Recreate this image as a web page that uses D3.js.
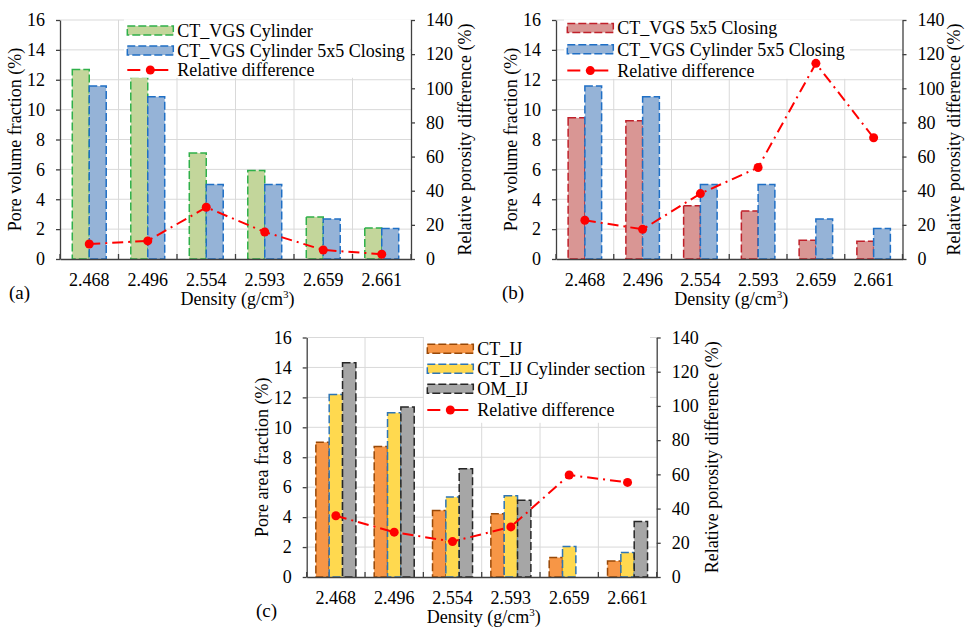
<!DOCTYPE html>
<html>
<head>
<meta charset="utf-8">
<script src="https://cdn.jsdelivr.net/npm/d3@7/dist/d3.min.js"></script>
<style>
  html, body { margin: 0; padding: 0; background: #fff; }
  svg { display: block; }
</style>
</head>
<body>
<svg id="chart" width="965" height="628"></svg>
<script>
// ---------------- DATA ----------------
const categories = ["2.468", "2.496", "2.554", "2.593", "2.659", "2.661"];
const leftTicks = [0, 2, 4, 6, 8, 10, 12, 14, 16];
const rightTicks = [0, 20, 40, 60, 80, 100, 120, 140];

// panel (a)
const ctVgsCylinder        = [12.69, 12.16, 7.10, 5.93, 2.82, 2.08];
const ctVgsCylinderClosing = [11.58, 10.86, 4.99, 4.99, 2.68, 2.04];
const relDiffA             = [8.8, 10.6, 30.3, 15.8, 5.3, 2.8];

// panel (b)
const ctVgsClosing         = [9.45, 9.25, 3.57, 3.22, 1.25, 1.19];
const relDiffB             = [22.7, 17.4, 38.3, 53.6, 114.6, 71.0];

// panel (c)
const ctIJ                 = [9.00, 8.72, 4.45, 4.22, 1.30, 1.07];
const ctIJCylinder         = [12.20, 10.97, 5.34, 5.43, 2.03, 1.63];
const omIJ                 = [14.32, 11.35, 7.24, 5.12, null, 3.71];
const relDiffC             = [35.8, 26.2, 20.7, 29.3, 59.6, 55.3];

// ---------------- DRAW ----------------
const FONT = '"Liberation Serif"';
const svg = d3.select("#chart");
svg.append("rect").attr("width", 965).attr("height", 628).attr("fill", "#fff");

function txt(sel, size) {
  return sel.style("font-family", FONT).style("font-size", size + "px").attr("fill", "#000");
}

function drawPanel(p) {
  const g = svg.append("g");
  const x = d3.scaleBand().domain(categories).range([p.x0, p.x1])
    .paddingInner(p.pad).paddingOuter(p.pad / 2);
  const xs = d3.scaleBand().domain(p.series.map(s => s.name)).range([0, x.bandwidth()]);
  const yL = d3.scaleLinear().domain([0, 16]).range([p.y1, p.y0]);
  const yR = d3.scaleLinear().domain([0, 140]).range([p.y1, p.y0]);

  // horizontal gridlines
  g.append("g").selectAll("line").data(leftTicks.filter(t => t > 0)).join("line")
    .attr("x1", p.x0).attr("x2", p.x1)
    .attr("y1", d => yL(d)).attr("y2", d => yL(d))
    .attr("stroke", "#d9d9d9").attr("stroke-width", 1);
  // vertical gridlines at category boundaries
  const bounds = d3.range(1, categories.length).map(i => p.x0 + i * x.step());
  g.append("g").selectAll("line").data(bounds).join("line")
    .attr("x1", d => d).attr("x2", d => d)
    .attr("y1", p.y0).attr("y2", p.y1)
    .attr("stroke", "#d9d9d9").attr("stroke-width", 1);

  // bars
  p.series.forEach(s => {
    const data = s.values.map((v, i) => ({ c: categories[i], v })).filter(d => d.v != null);
    g.append("g").selectAll("rect").data(data).join("rect")
      .attr("x", d => x(d.c) + xs(s.name))
      .attr("width", xs.bandwidth())
      .attr("y", d => yL(d.v))
      .attr("height", d => yL(0) - yL(d.v))
      .attr("fill", s.fill)
      .attr("stroke", s.stroke).attr("stroke-width", 1.5)
      .attr("stroke-dasharray", "8,3");
  });

  // axes
  const axL = g.append("g").attr("transform", `translate(${p.x0},0)`)
    .call(d3.axisLeft(yL).tickValues(leftTicks).tickSize(4).tickSizeOuter(0).tickPadding(11));
  const axR = g.append("g").attr("transform", `translate(${p.x1},0)`)
    .call(d3.axisRight(yR).tickValues(rightTicks).tickSize(4).tickSizeOuter(0).tickPadding(11));
  const axB = g.append("g").attr("transform", `translate(0,${p.y1})`)
    .call(d3.axisBottom(x).tickSize(0).tickSizeOuter(0).tickPadding(14));
  [axL, axR, axB].forEach(a => {
    a.attr("color", "#404040");
    a.select(".domain").attr("stroke-width", 1.3);
    a.selectAll(".tick line").attr("stroke-width", 1.3);
    txt(a.selectAll("text"), 18);
  });
  // boundary tick marks on category axis (inward)
  g.append("g").selectAll("line").data([p.x0].concat(bounds, [p.x1])).join("line")
    .attr("x1", d => d).attr("x2", d => d)
    .attr("y1", p.y1).attr("y2", p.y1 - 5)
    .attr("stroke", "#404040").attr("stroke-width", 1.3);

  // axis titles
  txt(g.append("text").attr("transform", `translate(${p.x0 - 45},${(p.y0 + p.y1) / 2}) rotate(-90)`)
    .attr("dy", "0.35em").attr("text-anchor", "middle"), 18).text(p.leftTitle);
  txt(g.append("text").attr("transform", `translate(${p.x1 + p.rtOff},${(p.y0 + p.y1) / 2}) rotate(-90)`)
    .attr("dy", "0.35em").attr("text-anchor", "middle"), 18).text("Relative porosity difference (%)");
  const xt = txt(g.append("text").attr("x", (p.x0 + p.x1) / 2 + 2).attr("y", p.y1 + 46)
    .attr("text-anchor", "middle"), 18);
  xt.append("tspan").text("Density (g/cm");
  xt.append("tspan").style("font-size", "11px").attr("dy", -7).text("3");
  xt.append("tspan").attr("dy", 7).text(")");
  // panel label
  txt(g.append("text").attr("x", p.labelX).attr("y", p.labelY), 19).text(p.label);

  // legend
  const L = p.legend;
  g.append("rect").attr("x", L.bx).attr("y", p.y0 - 0.7).attr("width", L.bw).attr("height", L.bh)
    .attr("fill", "#fff");
  p.series.forEach((s, i) => {
    const cy = L.y + i * L.dy;
    g.append("rect").attr("x", L.x).attr("y", cy - 4.5).attr("width", 46).attr("height", 9)
      .attr("fill", s.fill).attr("stroke", s.stroke).attr("stroke-width", 1.5)
      .attr("stroke-dasharray", "8,3");
    txt(g.append("text").attr("x", L.x + 50).attr("y", cy).attr("dy", "0.35em"), 18).text(s.name);
  });
  const ly = L.y + p.series.length * L.dy + L.extra;
  g.append("line").attr("x1", L.x).attr("x2", L.x + 41).attr("y1", ly).attr("y2", ly)
    .attr("stroke", "#ff0000").attr("stroke-width", 2).attr("stroke-dasharray", "13,6,22");
  g.append("circle").attr("cx", L.x + 23).attr("cy", ly).attr("r", 4.5).attr("fill", "#ff0000");
  txt(g.append("text").attr("x", L.x + 50).attr("y", ly).attr("dy", "0.35em"), 18).text("Relative difference");

  // relative difference line
  const line = d3.line().x((d, i) => x(categories[i]) + x.bandwidth() / 2).y(d => yR(d));
  g.append("path").datum(p.line).attr("d", line).attr("fill", "none")
    .attr("stroke", "#ff0000").attr("stroke-width", 2).attr("stroke-dasharray", "11,5,2,5");
  g.append("g").selectAll("circle").data(p.line).join("circle")
    .attr("cx", (d, i) => x(categories[i]) + x.bandwidth() / 2)
    .attr("cy", d => yR(d)).attr("r", 4.5).attr("fill", "#ff0000");
}

const green  = { fill: "#c3d69b", stroke: "#2fb04a" };
const blue   = { fill: "#95b3d7", stroke: "#1f6fc5" };
const red    = { fill: "#d99694", stroke: "#c0202a" };
const orange = { fill: "#f79646", stroke: "#984807" };
const yellow = { fill: "#ffd94f", stroke: "#2e75b6" };
const gray   = { fill: "#a6a6a6", stroke: "#262626" };

drawPanel({
  x0: 60, x1: 411, y0: 20, y1: 259, pad: 0.42, rtOff: 54,
  series: [
    Object.assign({ name: "CT_VGS Cylinder", values: ctVgsCylinder }, green),
    Object.assign({ name: "CT_VGS Cylinder 5x5 Closing", values: ctVgsCylinderClosing }, blue)
  ],
  line: relDiffA, leftTitle: "Pore volume fraction (%)",
  label: "(a)", labelX: 9, labelY: 299,
  legend: { x: 127.3, y: 30.5, dy: 20, extra: -0.5, bx: 124, bw: 286, bh: 58.5 }
});

drawPanel({
  x0: 556, x1: 902.5, y0: 20, y1: 259, pad: 0.42, rtOff: 51,
  series: [
    Object.assign({ name: "CT_VGS 5x5 Closing", values: ctVgsClosing }, red),
    Object.assign({ name: "CT_VGS Cylinder 5x5 Closing", values: ctVgsCylinderClosing }, blue)
  ],
  line: relDiffB, leftTitle: "Pore volume fraction (%)",
  label: "(b)", labelX: 502, labelY: 299,
  legend: { x: 567.3, y: 28, dy: 21.3, extra: 0, bx: 564, bw: 286, bh: 59.5 }
});

drawPanel({
  x0: 306.7, x1: 656.7, y0: 337.5, y1: 577, pad: 0.314, rtOff: 55,
  series: [
    Object.assign({ name: "CT_IJ", values: ctIJ }, orange),
    Object.assign({ name: "CT_IJ Cylinder section", values: ctIJCylinder }, yellow),
    Object.assign({ name: "OM_IJ", values: omIJ }, gray)
  ],
  line: relDiffC, leftTitle: "Pore area fraction (%)",
  label: "(c)", labelX: 256, labelY: 617,
  legend: { x: 427.3, y: 348.7, dy: 20, extra: 1.3, bx: 424, bw: 226, bh: 86 }
});
</script>
</body>
</html>
